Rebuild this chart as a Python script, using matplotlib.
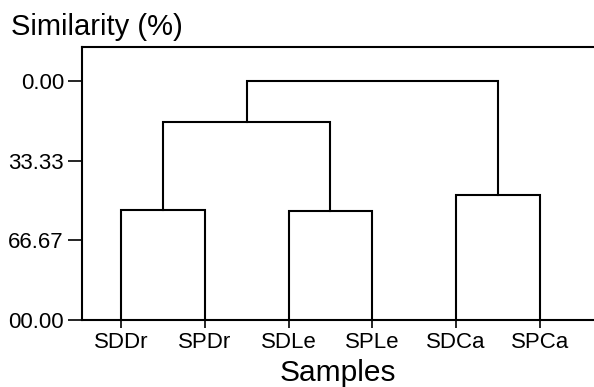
import matplotlib
matplotlib.use("Agg")
import matplotlib.pyplot as plt

plt.rcParams['font.family'] = ['Liberation Sans', 'DejaVu Sans']

# Data
samples = ["SDDr", "SPDr", "SDLe", "SPLe", "SDCa", "SPCa"]
leaf_level = 100.0
# merges: (left cluster id, right cluster id, similarity level)
merge_left = [0, 2, 4, 6, 8]
merge_right = [1, 3, 5, 7, 9]
merge_level = [53.8, 54.2, 47.8, 17.2, 0.0]
ytick_vals = [0.0, 33.33, 66.67, 100.0]
ytick_labels = ["0.00", "33.33", "66.67", "00.00"]

W, H = 594, 387
fig = plt.figure(figsize=(W / 100, H / 100), dpi=100)
ax = fig.add_axes([82 / W, 1 - 320 / H, (W - 82) / W, (320 - 47) / H])

# cluster positions and heights
pos = {i: float(i + 1) for i in range(len(samples))}
hgt = {i: leaf_level for i in range(len(samples))}
lw = 1.5
nid = len(samples)
for a, b, lev in zip(merge_left, merge_right, merge_level):
    xa, xb = pos[a], pos[b]
    ax.plot([xa, xa, xb, xb], [hgt[a], lev, lev, hgt[b]], color="black",
            lw=lw, solid_joinstyle="miter", clip_on=False)
    pos[nid] = (xa + xb) / 2
    hgt[nid] = lev
    nid += 1

ax.set_xlim(0.535, 6.644)
ax.set_ylim(100, -14.2)
ax.set_xticks(range(1, len(samples) + 1))
ax.set_xticklabels(samples)
ax.set_yticks(ytick_vals)
ax.set_yticklabels(ytick_labels)

for s in ["left", "bottom", "top"]:
    ax.spines[s].set_linewidth(1.5)
ax.spines["right"].set_visible(False)

ax.tick_params(axis="y", length=10, width=1.2, labelsize=16, pad=3, direction="out")
ax.tick_params(axis="x", length=6, width=1.2, labelsize=16, pad=3, direction="out")

ax.set_xlabel("Samples", fontsize=21.5, labelpad=4)
fig.text(11 / W, 1 - 35 / H, "Similarity (%)", fontsize=21, ha="left", va="baseline")

fig.savefig("out.png", dpi=100)
